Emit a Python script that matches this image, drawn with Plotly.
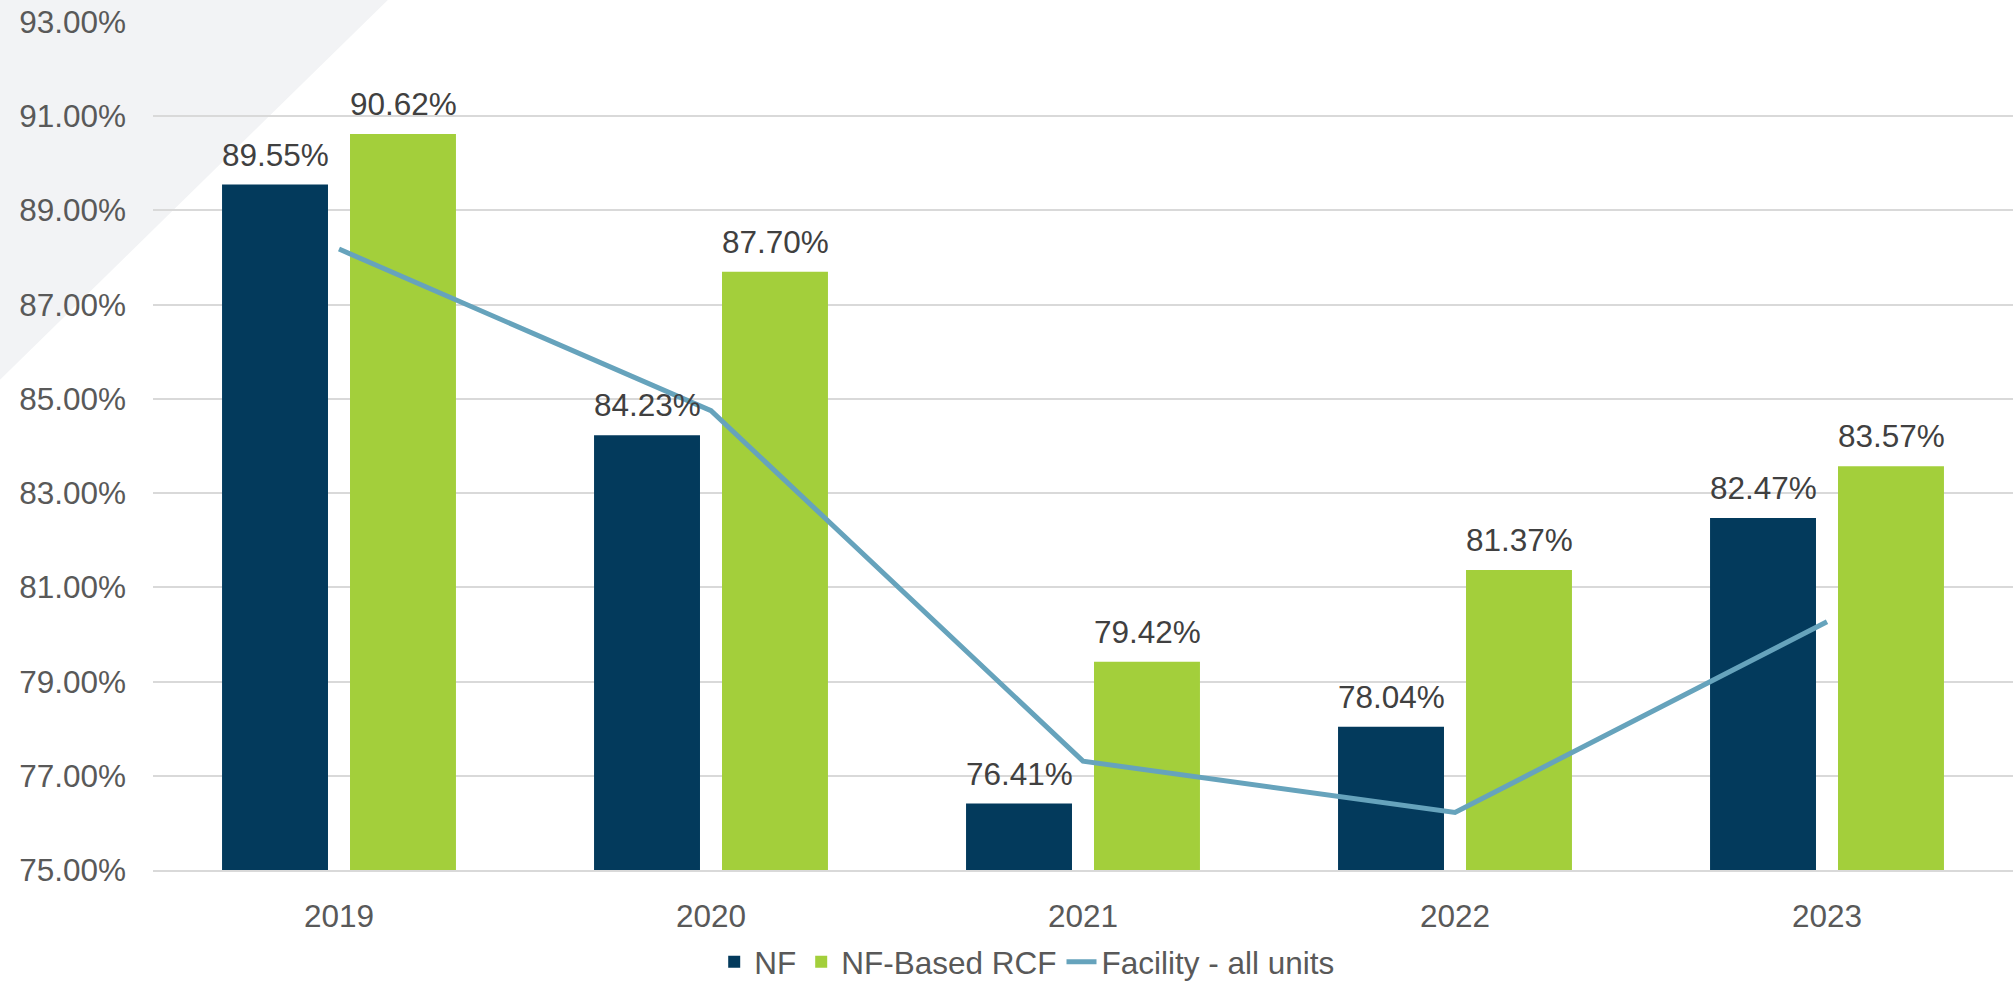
import plotly.graph_objects as go

years = ["2019", "2020", "2021", "2022", "2023"]
nf = [89.55, 84.23, 76.41, 78.04, 82.47]
nf_rcf = [90.62, 87.70, 79.42, 81.37, 83.57]
facility = [88.18, 84.75, 77.31, 76.22, 80.27]
y_ticks = [75, 77, 79, 81, 83, 85, 87, 89, 91, 93]
y_tick_text = [f"{v:.2f}%" for v in y_ticks]

FONT = "Liberation Sans, Arial, sans-serif"
FS = 31.5

fig = go.Figure()
fig.add_trace(go.Bar(
    x=years, y=nf, name="NF", marker=dict(color="#033a5c", line=dict(width=0)),
))
fig.add_trace(go.Bar(
    x=years, y=nf_rcf, name="NF-Based RCF", marker=dict(color="#a3cf3b", line=dict(width=0)),
))
fig.add_trace(go.Scatter(
    x=years, y=facility, name="Facility - all units", mode="lines",
    line=dict(color="#66a3bc", width=5), cliponaxis=False,
))

# data labels above each bar (x given as category index)
for series, shift in ((nf, -64), (nf_rcf, 64)):
    for i, v in enumerate(series):
        fig.add_annotation(x=i, y=v, text=f"{v:.2f}%", showarrow=False,
                           xshift=shift, yshift=10, yanchor="bottom",
                           font=dict(family=FONT, size=FS, color="#404040"))

# decorative light triangle in the top-left corner
fig.add_shape(type="path", xref="paper", yref="paper",
              path="M -0.0823 1.04 L 0.1328 1.04 L -0.0823 0.578 Z",
              fillcolor="#f2f3f5", line=dict(width=0), layer="below")

fig.update_layout(
    width=2013, height=985,
    margin=dict(l=153, r=0, t=22, b=115, autoexpand=False),
    paper_bgcolor="white", plot_bgcolor="rgba(0,0,0,0)",
    barmode="group", bargap=0.312, bargroupgap=0.172,
    font=dict(family=FONT, size=FS, color="#595959"),
    showlegend=True,
    legend=dict(orientation="h", x=0.47, xanchor="center", y=-0.140, yanchor="bottom",
                font=dict(family=FONT, size=FS, color="#595959"), traceorder="normal",
                bgcolor="rgba(0,0,0,0)"),
    xaxis=dict(type="category", range=[-0.5, len(years) - 0.5], showgrid=False,
               showline=True, linecolor="#d9d9d9", linewidth=2,
               ticks="", tickfont=dict(family=FONT, size=FS, color="#595959"),
               ticklabelstandoff=17, automargin=False),
    yaxis=dict(range=[75, 93], tickvals=y_ticks, ticktext=y_tick_text,
               showgrid=True, gridcolor="#d9d9d9", gridwidth=2, zeroline=False,
               showline=False, ticks="", ticklabelstandoff=26, automargin=False,
               tickfont=dict(family=FONT, size=FS, color="#595959")),
)

fig.write_html(
    "out.html",
    config={"displayModeBar": False},
    post_script="document.body.style.margin='0';document.body.style.overflow='hidden';",
)
